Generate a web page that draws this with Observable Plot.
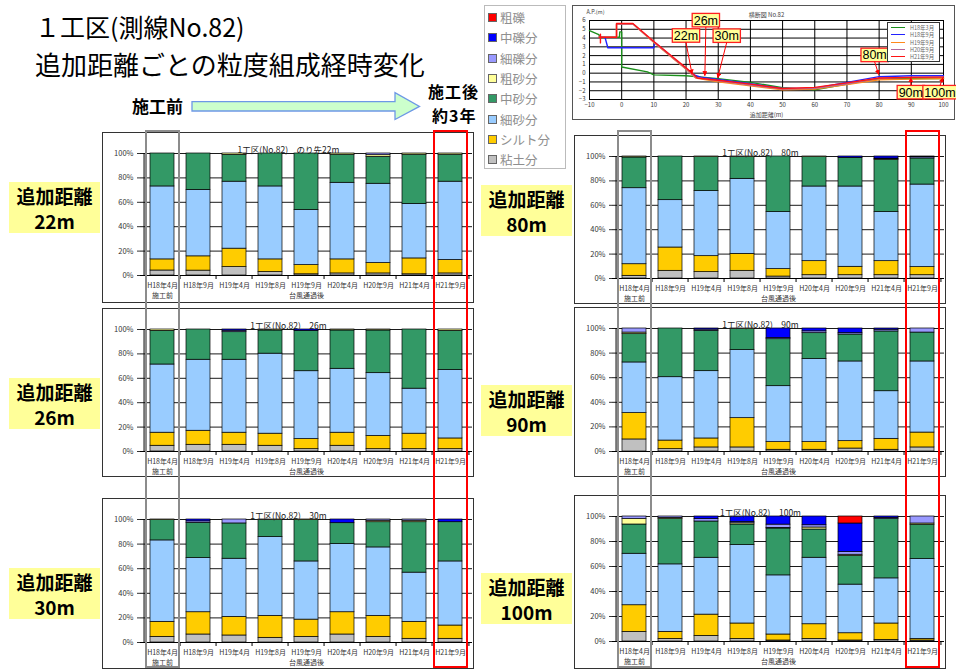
<!DOCTYPE html>
<html lang="ja">
<head>
<meta charset="utf-8">
<script src="https://cdn.jsdelivr.net/npm/d3@7"></script>
<script src="https://cdn.jsdelivr.net/npm/@observablehq/plot@0.6"></script>
<style>
  html, body { margin: 0; padding: 0; background: #fff; }
  #page { position: relative; width: 956px; height: 669px; overflow: hidden;
          font-family: "Noto Sans CJK JP", "Liberation Sans", sans-serif; color: #000; }
  .abs { position: absolute; }
  .title1 { font-size: 25px; line-height: 1; white-space: nowrap; }
  .title2 { font-size: 26px; line-height: 1; white-space: nowrap; }
  .stage { font-size: 17px; font-weight: bold; line-height: 18px; height: 18px; text-align: center; white-space: nowrap; }
  .stage.small { font-size: 16px; letter-spacing: 1px; }
  .dist { background: #ffff99; }
  .dist div { font-weight: bold; font-size: 19px; line-height: 22px; height: 22px; text-align: center; white-space: nowrap; }
  .panel { border: 1px solid #333; background: #fff; }
  .panel svg, .inset svg { display: block; }
  .legend { border: 1px solid #bbb; background: #fff; box-sizing: border-box; }
  .legend .row { position: absolute; left: 3px; font-size: 12.5px; line-height: 14px; color: #8f8f8f; white-space: nowrap; }
  .legend .sw { display: inline-block; width: 7px; height: 7px; border: 1px solid #666; margin-right: 3px; vertical-align: 1px; }
  .inset { border: 1px solid #555; background: #fff; }
  .mini { border: 1px solid #333; background: #fff; box-sizing: border-box; }
  .mini .row { position: absolute; left: 3px; font-size: 5.5px; line-height: 7px; color: #666; white-space: nowrap; }
  .mini .ln { display: inline-block; width: 14px; height: 0; border-top: 1.4px solid; margin-right: 5px; vertical-align: 2px; }
  .hl { box-sizing: border-box; border: 2px solid; background: transparent; }
</style>
</head>
<body>
<div id="page"></div>
<script>
// ---- grain-size components, stacked bottom to top ----
const components = ["粘土分", "シルト分", "細砂分", "中砂分", "粗砂分", "細礫分", "中礫分", "粗礫"];
const componentColors = ["#c0c0c0", "#ffcc00", "#99ccff", "#339966", "#ffff99", "#9999ff", "#0000ff", "#ff0000"];

// ---- survey dates (bar categories) ----
const dates = ["H18年4月", "H18年9月", "H19年4月", "H19年8月", "H19年9月", "H20年4月", "H20年9月", "H21年4月", "H21年9月"];
const dateNotes = {"H18年4月": "施工前", "H19年9月": "台風通過後"};

// ---- grain-size composition (%), one row per survey date, columns in component order ----
const grading22 = [
  [4.1, 9.1, 59.8, 27.0, 0, 0, 0, 0],
  [4.0, 11.7, 54.5, 29.8, 0, 0, 0, 0],
  [6.9, 15.1, 54.9, 22.0, 1.1, 0, 0, 0],
  [2.8, 10.4, 59.8, 27.0, 0, 0, 0, 0],
  [1.0, 7.5, 45.2, 46.3, 0, 0, 0, 0],
  [1.7, 11.5, 62.8, 23.0, 1.0, 0, 0, 0],
  [1.7, 8.5, 65.0, 22.0, 1.4, 1.4, 0, 0],
  [1.0, 13.0, 44.7, 40.3, 1.0, 0, 0, 0],
  [1.7, 11.0, 64.2, 22.1, 1.0, 0, 0, 0]
];
const grading26 = [
  [4.7, 10.7, 55.9, 27.6, 1.1, 0, 0, 0],
  [5.5, 11.5, 58.2, 24.8, 0, 0, 0, 0],
  [5.5, 9.9, 59.8, 22.6, 0, 1.2, 1.0, 0],
  [4.7, 9.9, 65.6, 19.0, 0.8, 0, 0, 0],
  [1.9, 8.3, 55.6, 33.1, 0, 0, 1.1, 0],
  [4.7, 10.7, 52.4, 31.4, 0.8, 0, 0, 0],
  [1.9, 10.8, 51.5, 35.0, 0.8, 0, 0, 0],
  [1.9, 12.7, 36.9, 48.5, 0, 0, 0, 0],
  [1.9, 8.8, 56.2, 32.0, 1.1, 0, 0, 0]
];
const grading30 = [
  [4.6, 12.2, 66.2, 16.5, 0.5, 0, 0, 0],
  [6.5, 18.1, 44.0, 28.7, 0, 1.2, 1.5, 0],
  [5.7, 15.1, 47.3, 28.7, 0, 3.2, 0, 0],
  [3.8, 17.8, 64.1, 13.8, 0.5, 0, 0, 0],
  [4.6, 14.0, 47.3, 33.6, 0.5, 0, 0, 0],
  [6.5, 18.1, 55.4, 17.0, 0, 0, 3.0, 0],
  [4.6, 17.0, 55.7, 20.5, 1.2, 1.0, 0, 0],
  [3.0, 13.8, 40.0, 41.0, 1.2, 1.0, 0, 0],
  [3.0, 10.8, 52.1, 31.9, 0, 0, 2.2, 0]
];
const grading80 = [
  [2.2, 9.5, 62.3, 25.2, 0.8, 0, 0, 0],
  [6.3, 19.1, 38.8, 35.8, 0, 0, 0, 0],
  [5.2, 13.1, 53.3, 27.9, 0.5, 0, 0, 0],
  [6.3, 13.9, 61.5, 17.8, 0.5, 0, 0, 0],
  [1.6, 6.1, 46.7, 45.6, 0, 0, 0, 0],
  [2.7, 11.5, 61.2, 24.1, 0.5, 0, 0, 0],
  [2.7, 6.9, 65.8, 23.5, 0, 0, 1.1, 0],
  [2.7, 11.5, 40.2, 42.9, 0.5, 0.5, 1.7, 0],
  [2.7, 6.6, 67.7, 21.4, 0, 1.0, 0.6, 0]
];
const grading90 = [
  [9.8, 21.4, 41.2, 23.0, 1.3, 3.3, 0, 0],
  [1.9, 7.0, 51.5, 39.6, 0, 0, 0, 0],
  [3.3, 7.3, 54.7, 32.8, 0, 1.0, 0.9, 0],
  [3.3, 23.8, 55.3, 17.1, 0.5, 0, 0, 0],
  [1.4, 6.2, 45.5, 38.2, 0, 1.0, 7.7, 0],
  [1.4, 6.2, 67.5, 21.1, 0, 1.5, 2.3, 0],
  [2.4, 6.0, 64.8, 21.9, 0, 1.1, 3.8, 0],
  [1.4, 8.9, 38.7, 48.6, 0, 1.4, 1.0, 0],
  [3.3, 12.1, 57.8, 23.5, 0, 3.3, 0, 0]
];
const grading100 = [
  [7.7, 21.3, 41.2, 23.4, 4.3, 2.1, 0, 0],
  [2.1, 5.6, 54.0, 36.2, 1.0, 1.1, 0, 0],
  [4.5, 17.0, 45.5, 29.0, 0, 2.0, 2.0, 0],
  [2.1, 12.3, 62.7, 16.5, 1.0, 1.1, 4.3, 0],
  [0.8, 4.8, 47.3, 37.5, 0.5, 2.6, 6.5, 0],
  [2.1, 11.7, 53.2, 22.6, 1.6, 1.8, 7.0, 0],
  [0.8, 5.8, 38.9, 22.9, 1.0, 2.2, 22.8, 5.6],
  [1.3, 13.1, 36.1, 47.4, 0, 1.0, 1.1, 0],
  [0.8, 1.3, 63.8, 27.5, 1.0, 5.6, 0, 0]
];

const distances = ["22m", "26m", "30m", "80m", "90m", "100m"];
const panelTitles = ["1工区(No.82)　のり先22m", "1工区(No.82)　26m", "1工区(No.82)　30m",
                     "1工区(No.82)　80m", "1工区(No.82)　90m", "1工区(No.82)　100m"];
const gradings = [grading22, grading26, grading30, grading80, grading90, grading100];

// ---- cross-section profiles: [distance (m), elevation A.P. (m)] ----
const surveys = ["H18年3月", "H18年9月", "H19年9月", "H20年9月", "H21年9月"];
const surveyColors = ["#1b8f1b", "#2222ff", "#ff8a1a", "#b2689e", "#ff1414"];
const profileH18Mar = [[-10, 4.85], [-7.1, 4.4], [-6.8, 4.1], [-0.7, 4.1], [-0.6, 4.7], [0, 4.7], [0, 0.7],
  [8, 0.15], [10, -0.2], [20, -0.3], [25, -0.45], [30, -0.62], [40, -1.05], [50, -1.65], [60, -1.9],
  [70, -1.25], [80, -0.65], [90, -0.6], [100, -0.6]];
const profileH18Sep = [[-7, 4.1], [-5.2, 4.1], [-4.3, 2.9], [10, 2.9], [10.3, 3.5], [20, 0.5], [22.5, -0.2],
  [25, -0.5], [30, -0.72], [40, -1.2], [50, -1.75], [60, -1.7], [70, -1.05], [80, -0.4], [90, -0.3], [100, -0.3]];
const profileH19Sep = [[-7, 4.1], [-1.6, 4.1], [-1.6, 5.6], [3.5, 5.6], [10, 3.5], [20, 0.45], [23, -0.55],
  [30, -0.98], [40, -1.45], [50, -1.9], [60, -1.8], [70, -1.3], [80, -0.75], [90, -0.68], [100, -0.62]];
const profileH20Sep = [[-7, 4.1], [-1.6, 4.1], [-1.6, 5.6], [3.5, 5.6], [10, 3.55], [20, 0.5], [23, -0.5],
  [30, -0.88], [40, -1.35], [50, -1.82], [60, -1.72], [70, -1.2], [80, -0.6], [90, -0.45], [100, -0.42]];
const profileH21Sep = [[-7, 4.1], [-6.6, 4.1], [-6.6, 4.45], [-6.6, 3.45], [-6.6, 4.1], [-1.6, 4.1], [-1.6, 5.65],
  [3.5, 5.65], [10, 3.6], [20, 0.6], [22, 0.0], [23.5, -0.55], [30, -0.8], [40, -1.25], [50, -1.75],
  [60, -1.62], [70, -1.1], [80, -0.55], [90, -0.48], [100, -0.45]];
const profiles = [profileH18Mar, profileH18Sep, profileH19Sep, profileH20Sep, profileH21Sep];

// sampling points marked on the cross-section
const samplePoints = [
  {label: "22m", dist: 22, elev: -0.15},
  {label: "26m", dist: 26, elev: -0.34},
  {label: "30m", dist: 30, elev: -0.57},
  {label: "80m", dist: 80, elev: -0.2},
  {label: "90m", dist: 90, elev: -0.57},
  {label: "100m", dist: 100, elev: -0.57}
];

// ------------------------------------------------------------------
const page = document.getElementById("page");
const FONT = '"Noto Sans CJK JP", "Liberation Sans", sans-serif';

function add(tag, cls, left, top, html) {
  const el = document.createElement(tag);
  el.className = "abs " + (cls || "");
  el.style.left = left + "px";
  el.style.top = top + "px";
  if (html != null) el.innerHTML = html;
  page.appendChild(el);
  return el;
}

// headings
add("div", "title1", 35, 14, "１工区(測線No.82)");
add("div", "title2", 35, 51, "追加距離ごとの粒度組成経時変化");
add("div", "stage", 132, 97, "施工前");
add("div", "stage small", 428, 82, "施工後");
add("div", "stage small", 432, 105.5, "約3年");

// progress arrow
const arrow = d3.select(page).append("svg")
  .attr("class", "abs").style("left", "0px").style("top", "0px")
  .attr("width", 422).attr("height", 124);
arrow.append("polygon")
  .attr("points", "192,101.7 395,101.7 395,92.7 419.5,106.4 395,119.5 395,111 192,111")
  .attr("fill", "#ccffcc").attr("stroke", "#6d98e6").attr("stroke-width", 1.3);

// legend of grain-size components
const legend = add("div", "legend", 484, 5);
legend.style.width = "82px";
legend.style.height = "164px";
components.slice().reverse().forEach((name, k) => {
  const color = componentColors[components.indexOf(name)];
  const row = document.createElement("div");
  row.className = "row";
  row.style.top = (5 + k * 20.3) + "px";
  row.innerHTML = `<span class="sw" style="background:${color}"></span>${name}`;
  legend.appendChild(row);
});

// ------------------------------------------------------------------
// stacked bar panels
const panelLayout = [
  {left: 103, top: 133, plotH: 122, mb: 27},
  {left: 103, top: 309, plotH: 122, mb: 25},
  {left: 103, top: 499, plotH: 123, mb: 26},
  {left: 575, top: 136, plotH: 122, mb: 25},
  {left: 575, top: 308, plotH: 123, mb: 25},
  {left: 575, top: 496, plotH: 125, mb: 27}
];
const distLabelPos = [[9, 182], [9, 378], [9, 568], [481, 185], [481, 385], [481, 573]];

function gradingPanel(title, rows, g) {
  const W = 370, ml = 37, mr = 1, mt = 20;
  const H = mt + g.plotH + g.mb;
  const step = (W - ml - mr) / dates.length;
  const data = rows.flatMap((row, i) => row.map((v, j) => ({date: dates[i], comp: components[j], value: v})));
  return Plot.plot({
    width: W, height: H,
    marginLeft: ml, marginRight: mr, marginTop: mt, marginBottom: g.mb,
    style: {fontFamily: FONT, fontSize: "7px", color: "#333", background: "transparent", overflow: "visible"},
    x: {domain: dates, paddingInner: 0.33, paddingOuter: 0.165, axis: null},
    y: {domain: [0, 100], axis: null},
    color: {domain: components, range: componentColors},
    marks: [
      Plot.ruleY([20, 40, 60, 80, 100], {stroke: "#000", strokeWidth: 0.9}),
      Plot.barY(data, {x: "date", y: "value", fill: "comp", stroke: "#000", strokeWidth: 0.7, order: components}),
      Plot.ruleY([0], {stroke: "#000"}),
      Plot.ruleX([dates[0]], {dx: -step / 2, stroke: "#000"}),
      Plot.ruleX(dates.slice(1), {dx: -step / 2, y1: 0, y2: 0, insetBottom: -4, stroke: "#000"}),
      Plot.ruleX([dates[dates.length - 1]], {dx: step / 2, y1: 0, y2: 0, insetBottom: -4, stroke: "#000"}),
      Plot.axisY({ticks: [0, 20, 40, 60, 80, 100], tickFormat: d => d + "%", tickSize: 3, tickPadding: 4,
                  label: null, fontSize: 7.5}),
      Plot.axisX({tickSize: 0, tickPadding: 5, label: null, lineHeight: 1.45, fontSize: 7,
                  tickFormat: d => dateNotes[d] ? d + "\n" + dateNotes[d] : d}),
      Plot.text([title], {text: d => d, frameAnchor: "top", dy: -7, dx: -(ml - mr) / 2, fontSize: 8.5, fill: "#222"})
    ]
  });
}

const charts = gradings.map((rows, p) => {
  const g = panelLayout[p];
  const box = add("div", "panel", g.left - 1, g.top - 1);
  const chart = gradingPanel(panelTitles[p], rows, g);
  box.appendChild(chart);
  const [lx, ly] = distLabelPos[p];
  const lab = add("div", "dist", lx, ly);
  lab.style.width = "91px";
  lab.style.height = "51px";
  lab.style.paddingTop = "3px";
  lab.style.boxSizing = "border-box";
  lab.innerHTML = `<div>追加距離</div><div style="margin-top:3px">${distances[p]}</div>`;
  return chart;
});

// highlight columns: before construction (grey) and about 3 years after (red)
function highlight(chart, left, date, color) {
  const sx = chart.scale("x");
  const stepPx = sx.step ?? sx.bandwidth / 0.67;
  const x0 = left + sx.apply(date) - (stepPx - sx.bandwidth) / 2 + 1;
  const el = add("div", "hl", x0, 130);
  el.style.width = (stepPx - 1) + "px";
  el.style.height = "538px";
  el.style.borderColor = color;
}
highlight(charts[0], 103, dates[0], "#8c8c8c");
highlight(charts[0], 103, dates[dates.length - 1], "#ff0000");
highlight(charts[3], 575, dates[0], "#8c8c8c");
highlight(charts[3], 575, dates[dates.length - 1], "#ff0000");

// ------------------------------------------------------------------
// cross-section inset
const sectionData = surveys.flatMap((s, i) => profiles[i].map(([d, e]) => ({survey: s, d, e})));
const inset = Plot.plot({
  width: 381, height: 113,
  marginLeft: 16, marginRight: 11, marginTop: 14, marginBottom: 20,
  style: {fontFamily: FONT, fontSize: "6px", color: "#333", background: "transparent", overflow: "visible"},
  x: {domain: [-10, 100], axis: null},
  y: {domain: [-3, 6], axis: null},
  color: {domain: surveys, range: surveyColors},
  marks: [
    Plot.gridX(d3.range(-10, 101, 10), {stroke: "#000", strokeOpacity: 1, strokeWidth: 1}),
    Plot.gridY(d3.range(-3, 7, 1), {stroke: "#000", strokeOpacity: 1, strokeWidth: 1}),
    Plot.axisX(d3.range(-10, 101, 10), {tickSize: 0, tickPadding: 3, label: null, fontSize: 6}),
    Plot.axisY(d3.range(-3, 7, 1), {tickSize: 0, tickPadding: 4, label: null, fontSize: 6}),
    Plot.line(sectionData, {x: "d", y: "e", z: "survey", stroke: "survey", strokeWidth: 1.4}),
    Plot.text(["横断図 No.82"], {text: d => d, frameAnchor: "top", dy: -8, fontSize: 6, fill: "#444"}),
    Plot.text(["A.P.(m)"], {text: d => d, frameAnchor: "top-left", dx: -3, dy: -10, textAnchor: "start", fontSize: 5.5, fill: "#444"}),
    Plot.text(["追加距離(m)"], {text: d => d, frameAnchor: "bottom", dy: 17, fontSize: 6, fill: "#444"})
  ]
});
const insetBox = add("div", "inset", 572, 5);
insetBox.appendChild(inset);

// sampling-point callouts, placed through the inset's scales
const calloutOffset = {"22m": [-6, -38.5], "26m": [1, -55.5], "30m": [9, -42], "80m": [-4, -19.5], "90m": [0, 14.5], "100m": [-3, 14.5]};
const sx = inset.scale("x"), sy = inset.scale("y");
const isvg = d3.select(inset);
isvg.append("defs").append("marker")
  .attr("id", "tip").attr("viewBox", "0 0 10 10").attr("refX", 9).attr("refY", 5)
  .attr("markerWidth", 5).attr("markerHeight", 5).attr("orient", "auto-start-reverse")
  .append("path").attr("d", "M0,0L10,5L0,10z").attr("fill", "#ff0000");
const cg = isvg.append("g");
samplePoints.forEach(p => {
  const tx = sx.apply(p.dist), ty = sy.apply(p.elev);
  const [ox, oy] = calloutOffset[p.label];
  const cx = tx + ox, cy = ty + oy;
  const t = cg.append("text").text(p.label)
    .attr("x", cx).attr("y", cy).attr("text-anchor", "middle").attr("dy", "0.36em")
    .attr("font-family", '"Liberation Sans", Arial, sans-serif').attr("font-size", 12.5).attr("fill", "#000");
  const w = t.node().getComputedTextLength() + 3, h = 13.5;
  cg.insert("rect", "text")
    .attr("x", cx - w / 2).attr("y", cy - h / 2).attr("width", w).attr("height", h)
    .attr("fill", "#ffff99").attr("stroke", "#ff2020").attr("stroke-width", 1.3);
  const sy0 = oy < 0 ? cy + h / 2 : cy - h / 2;
  cg.append("line")
    .attr("x1", cx).attr("y1", sy0).attr("x2", tx).attr("y2", ty)
    .attr("stroke", "#ff0000").attr("stroke-width", 1).attr("marker-end", "url(#tip)");
});

// inset legend
const mini = add("div", "mini", 887, 22);
mini.style.width = "53px";
mini.style.height = "40px";
surveys.forEach((s, i) => {
  const row = document.createElement("div");
  row.className = "row";
  row.style.top = (2 + i * 7.3) + "px";
  row.innerHTML = `<span class="ln" style="border-color:${surveyColors[i]}"></span>${s}`;
  mini.appendChild(row);
});
</script>
</body>
</html>
